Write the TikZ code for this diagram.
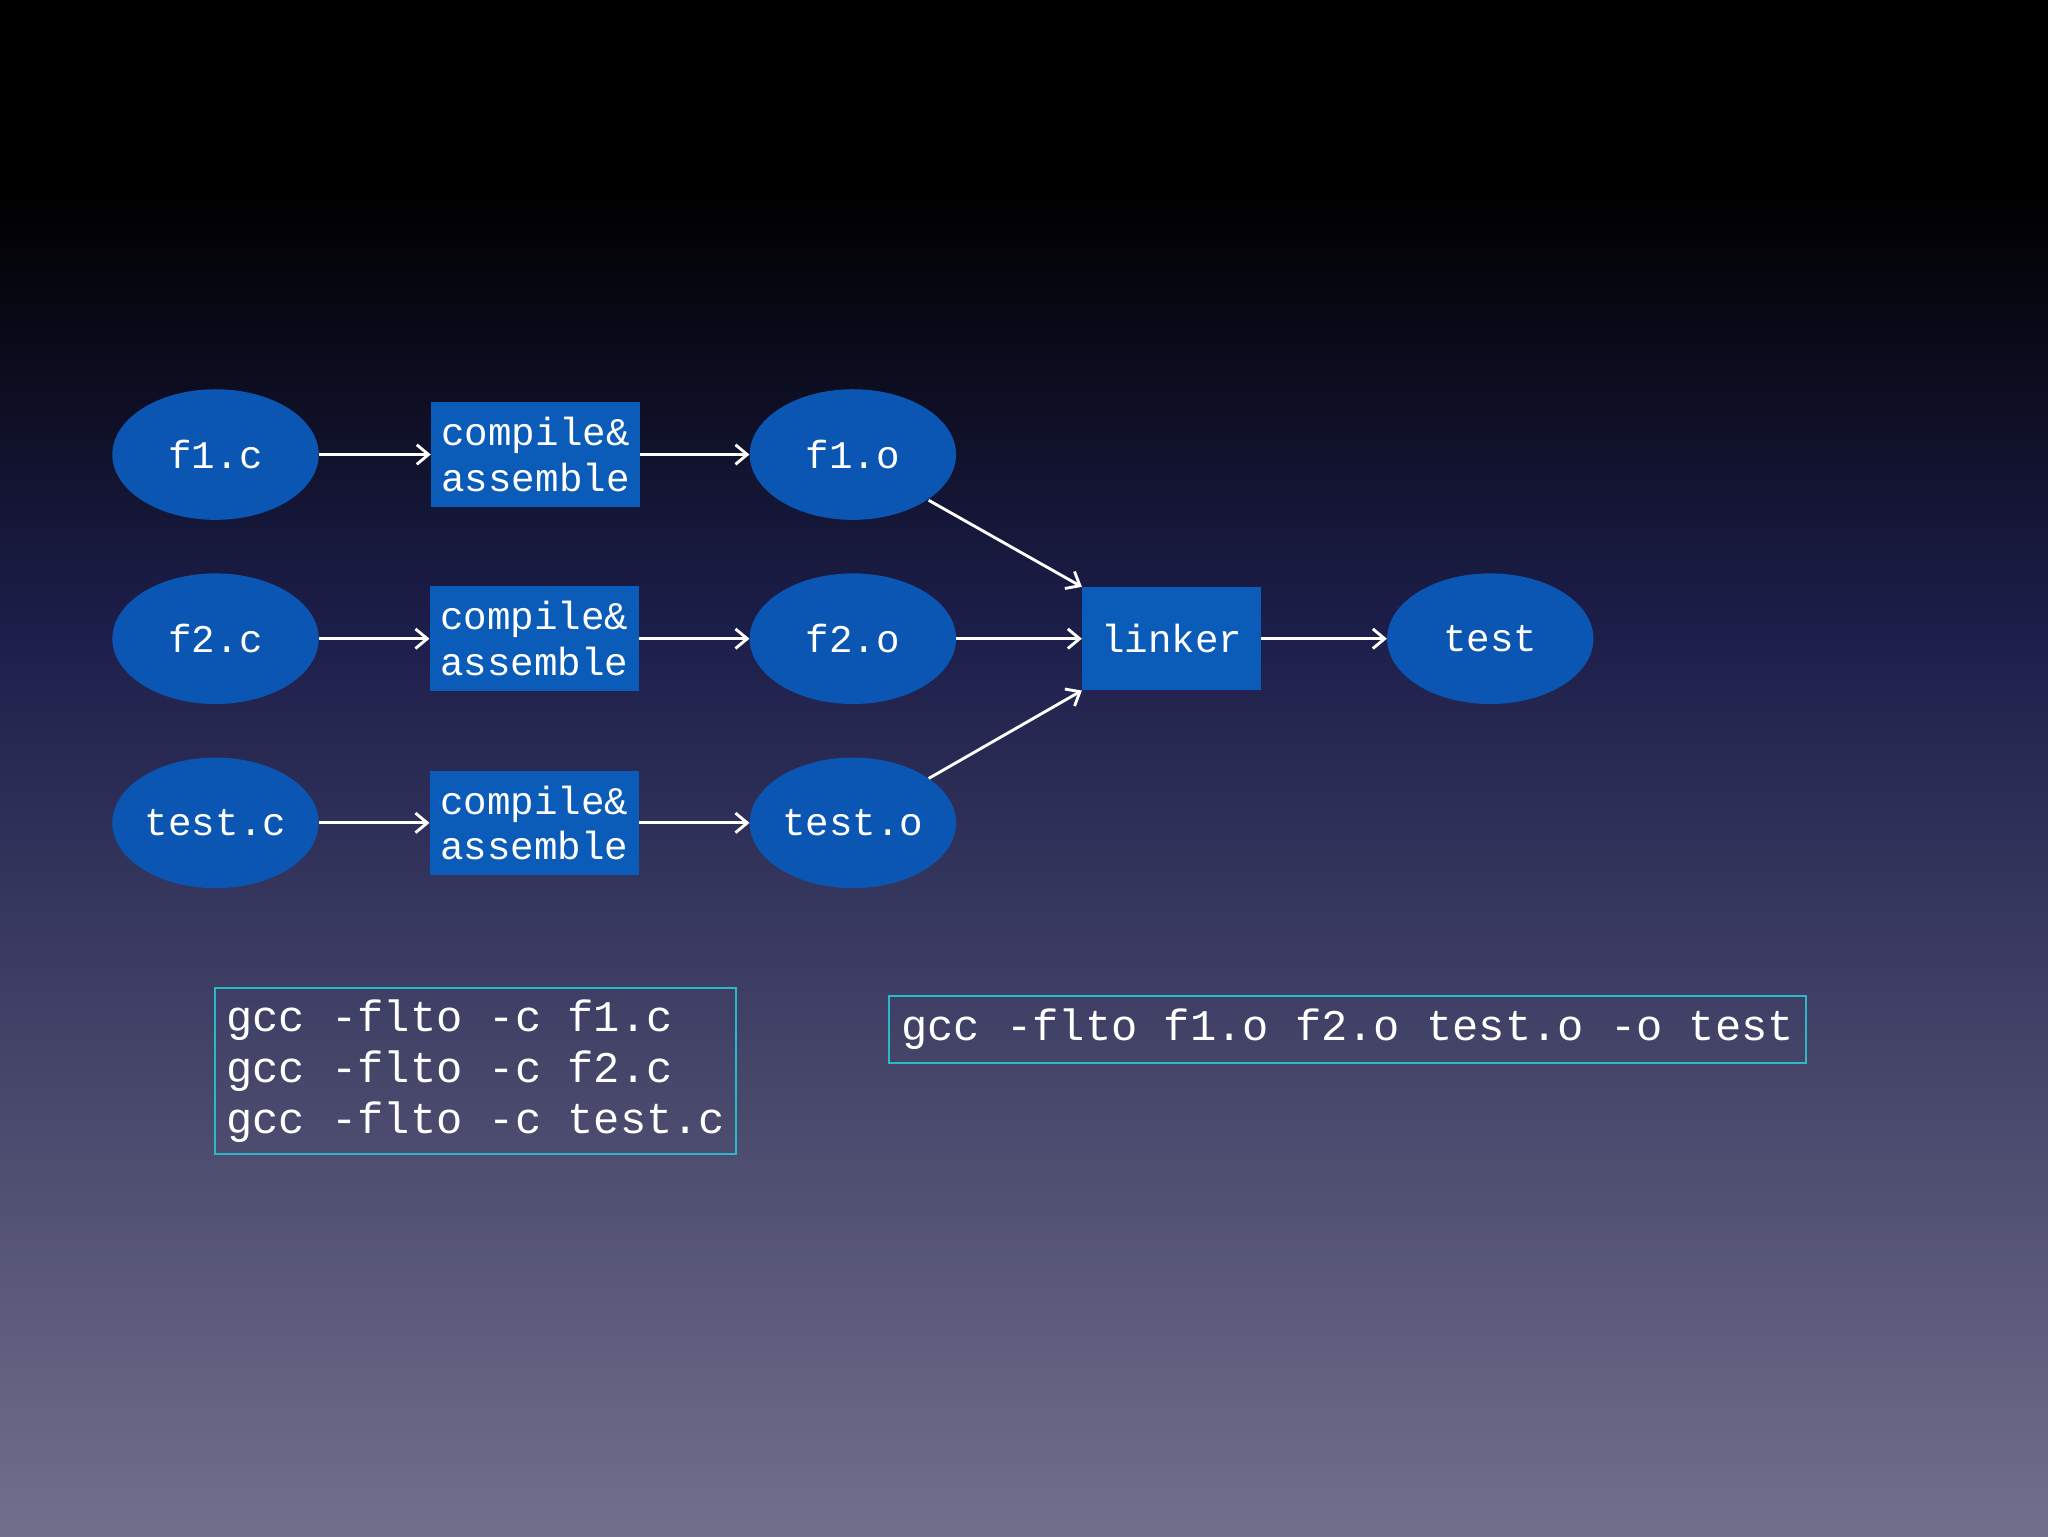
\documentclass[tikz,border=0pt]{standalone}
\usepackage{fontspec}
\setmonofont{Liberation Mono}
\usetikzlibrary{arrows.meta,shapes.geometric}
\definecolor{nodeblue}{HTML}{0A56B2}
\definecolor{boxblue}{HTML}{0B5CB8}
\definecolor{cyanb}{HTML}{2DB8C8}
\definecolor{midbg}{HTML}{1C1E4A}
\definecolor{botbg}{HTML}{716F8C}
\tikzset{
  ell/.style={ellipse, fill=nodeblue, minimum width=158pt, minimum height=100pt, text=white, font=\ttfamily\fontsize{30}{34}\selectfont, inner sep=0pt},
  proc/.style={rectangle, fill=boxblue, text=white, font=\ttfamily\fontsize{30}{35}\selectfont, align=center, inner sep=0pt},
  arr/.style={white, line width=2.2pt, -{Straight Barb[length=9pt,width=15pt,line width=2.2pt]}},
  code/.style={draw=cyanb, line width=1.5pt, text=white, align=left, inner xsep=7pt, inner ysep=5pt, font=\ttfamily\fontsize{33.5}{39}\selectfont}
}
\begin{document}
\begin{tikzpicture}[x=1pt,y=-1pt]
\useasboundingbox (0,0) rectangle (1568,1176);
\shade[top color=black, bottom color=black] (0,0) rectangle (1568,150);
\shade[top color=black, bottom color=midbg] (0,149) rectangle (1568,480);
\shade[top color=midbg, bottom color=botbg] (0,479) rectangle (1568,1176);
\node[ell] (f1c) at (165,348) {f1.c};
\node[ell] (f2c) at (165,489) {f2.c};
\node[ell] (tc) at (165,630) {test.c};
\node[proc, minimum width=160pt, minimum height=80pt] (c1) at (410,348) {compile\&\\assemble};
\node[proc, minimum width=160pt, minimum height=80pt] (c2) at (409,489) {compile\&\\assemble};
\node[proc, minimum width=160pt, minimum height=80pt] (c3) at (409,630) {compile\&\\assemble};
\node[ell] (f1o) at (653,348) {f1.o};
\node[ell] (f2o) at (653,489) {f2.o};
\node[ell] (to) at (653,630) {test.o};
\node[proc, minimum width=137pt, minimum height=79pt] (lk) at (897,489) {linker};
\node[ell] (t) at (1141,489) {test};
\draw[arr] (f1c) -- (c1);
\draw[arr] (f2c) -- (c2);
\draw[arr] (tc) -- (c3);
\draw[arr] (c1) -- (f1o);
\draw[arr] (c2) -- (f2o);
\draw[arr] (c3) -- (to);
\draw[arr] (711,383) -- (lk.north west);
\draw[arr] (f2o) -- (lk);
\draw[arr] (711,596) -- (lk.south west);
\draw[arr] (lk) -- (t);
\node[code, minimum width=399pt, minimum height=127pt, anchor=north west] (g1) at (164,756) {gcc -flto -c f1.c\\gcc -flto -c f2.c\\gcc -flto -c test.c};
\node[code, minimum width=702pt, minimum height=51pt, anchor=north west] (g2) at (680,762) {gcc -flto f1.o f2.o test.o -o test};
\end{tikzpicture}
\end{document}
